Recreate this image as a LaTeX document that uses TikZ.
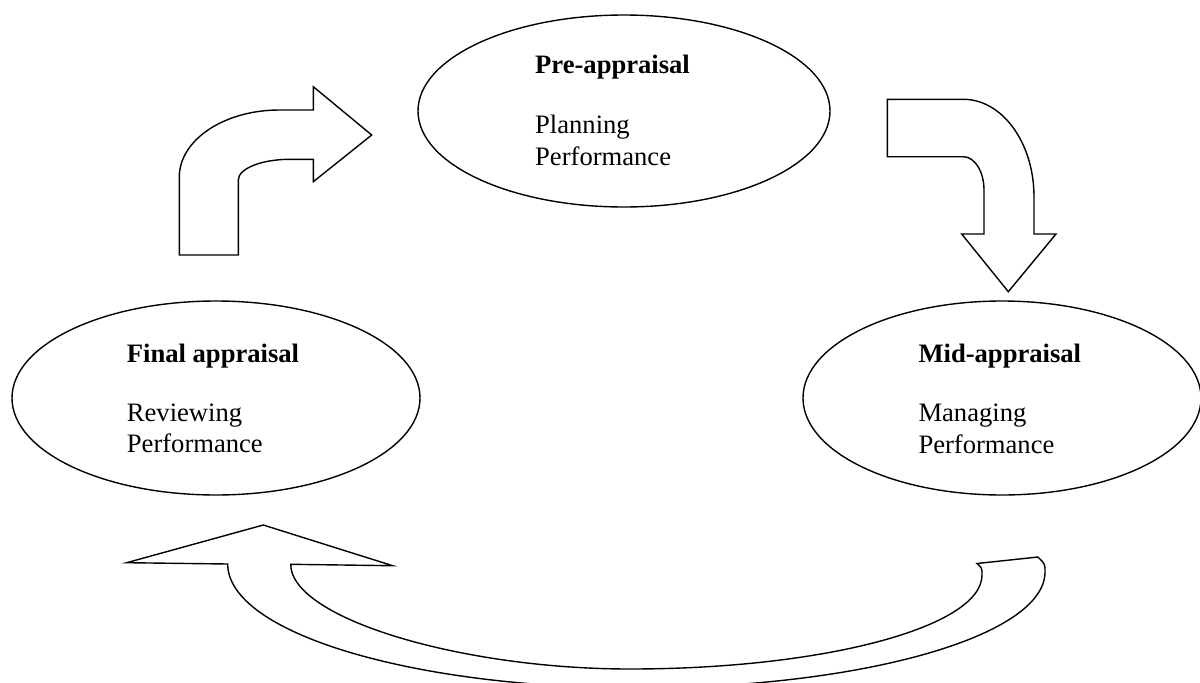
\documentclass[tikz,border=0pt]{standalone}
\usepackage{fontspec}
\setmainfont{Liberation Serif}
\usetikzlibrary{shapes.geometric}
\begin{document}
\begin{tikzpicture}[x=1pt,y=-1pt,
  stage/.style={draw=black,line width=1.4pt,ellipse,inner sep=0pt},
  title/.style={anchor=base west,inner sep=0pt,font=\fontsize{26.6}{31.5}\selectfont\bfseries},
  body/.style={anchor=base west,inner sep=0pt,font=\fontsize{26.6}{31.5}\selectfont},
  bigarrow/.style={draw=black,line width=1.4pt,line join=miter,fill=white}]
\useasboundingbox (0,0) rectangle (1200,683);
\clip (0,0) rectangle (1200,683);

% ellipses
\node[stage,minimum width=412pt,minimum height=192pt] (pre) at (624,111) {};
\node[stage,minimum width=408pt,minimum height=194pt] (final) at (216,398) {};
\node[stage,minimum width=398pt,minimum height=194pt] (mid) at (1002,398) {};

% texts
\node[title] (preT) at (535,73.3) {Pre-appraisal};
\node[body] (preA) at (535,133.3) {Planning};
\node[body] (preB) at (535,165) {Performance};

\node[title] (finT) at (126.7,362) {Final appraisal};
\node[body] (finA) at (126.7,421.7) {Reviewing};
\node[body] (finB) at (126.7,452.5) {Performance};

\node[title] (midT) at (918.3,362) {Mid-appraisal};
\node[body] (midA) at (918.3,421.7) {Managing};
\node[body] (midB) at (918.3,453) {Performance};

% up-right bent arrow (final -> pre)
\draw[bigarrow] (179.3,255) -- (179.3,177)
  .. controls (179.3,140) and (224.1,110) .. (279.3,110)
  -- (313.3,110) -- (313.3,86.7) -- (371.7,135) -- (313.3,181.7) -- (313.3,159.3)
  -- (290,159.3) .. controls (261.4,159.3) and (238.3,168.6) .. (238.3,180)
  -- (238.3,255) -- cycle;

% down bent arrow (pre -> mid)
\draw[bigarrow] (887.3,99.3) -- (963.3,99.3)
  .. controls (1002.3,99.3) and (1034,142.9) .. (1034,196.7)
  -- (1034,234) -- (1056,234) -- (1008.3,291.7) -- (961.7,234) -- (984,234)
  -- (984,190) .. controls (984,171.6) and (974.7,156.7) .. (963.3,156.7)
  -- (887.3,156.7) -- cycle;

% bottom U-turn arrow (mid -> final)
\draw[bigarrow] (290.7,564.3) -- (392.7,565.7) -- (263.3,525) -- (126.7,562.7) -- (227.7,564)
  .. controls (227.7,632.5) and (411,688) .. (637,688)
  .. controls (862.3,688) and (1045,636) .. (1045,572)
  .. controls (1045,564) .. (1038,557)
  -- (977,563.5)
  .. controls (982,568) .. (982,575)
  .. controls (982,626.9) and (824.4,669) .. (630,669)
  .. controls (460,669) and (290.7,618) .. (290.7,564.3) -- cycle;
\end{tikzpicture}
\end{document}
